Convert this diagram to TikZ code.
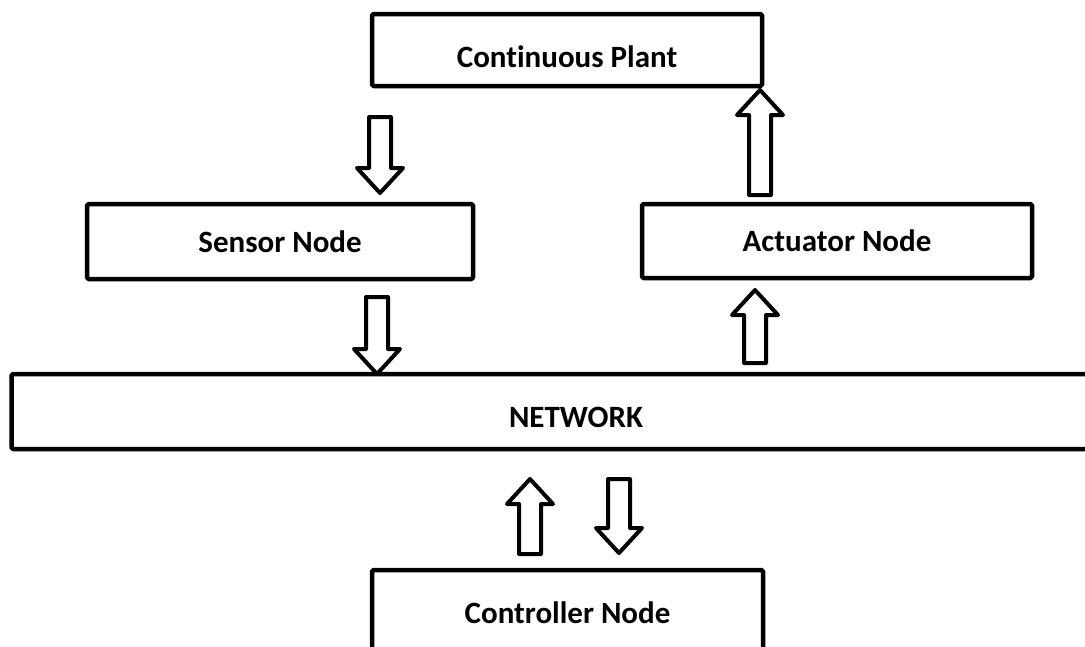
\documentclass[tikz,border=0pt]{standalone}
\usepackage{fontspec}
\setmainfont{Carlito}[Ligatures=NoCommon]
\usetikzlibrary{calc}

\newcommand{\blockarrow}[2]{%
\draw [arrowline] let \p1=(#1), \p2=(#2), \p3=($(#2)!25pt!(#1)$) in
 ({\x1-11pt},\y1) -- ({\x1+11pt},\y1) -- ({\x1+11pt},\y3) -- ({\x1+23pt},\y3) -- (\x2,\y2) -- ({\x1-23pt},\y3) -- ({\x1-11pt},\y3) -- cycle;}

\begin{document}
\begin{tikzpicture}[x=1pt,y=-1pt,
  box/.style={draw=black, line width=4.5pt, line join=round, rounded corners=1.5pt, outer sep=0pt, inner sep=0pt, font=\fontsize{31}{37}\selectfont\bfseries},
  textdown/.style={text height=#1, text depth=0pt},
  arrowline/.style={draw=black, line width=4pt, line join=round}]
\useasboundingbox (0,0) rectangle (1085,646);
\node [box, textdown=35.5pt, minimum width=390pt, minimum height=72pt] (plant) at (567,50) {Continuous Plant};
\node [box, minimum width=386pt, minimum height=75pt] (sensor) at (280,241.5) {Sensor Node};
\node [box, minimum width=390pt, minimum height=74pt] (actuator) at (837,241) {Actuator Node};
\node [box, textdown=31pt, minimum width=1129pt, minimum height=75pt] (network) at (576,411.5) {NETWORK};
\node [box, minimum width=391pt, minimum height=85pt] (controller) at (567.5,612.5) {Controller Node};
\coordinate (ps1) at (380,117);
\coordinate (ps2) at (380,193);
\coordinate (sn1) at (377,297);
\coordinate (sn2) at (sn1 |- network.north);
\coordinate (na1) at (755,363);
\coordinate (na2) at (755,290);
\coordinate (ap1) at (760,195);
\coordinate (ap2) at (760,90);
\coordinate (cn1) at (530,554);
\coordinate (cn2) at (530,479);
\coordinate (nc1) at (619,479);
\coordinate (nc2) at (619,553);
\blockarrow{ps1}{ps2}
\blockarrow{sn1}{sn2}
\blockarrow{na1}{na2}
\blockarrow{ap1}{ap2}
\blockarrow{cn1}{cn2}
\blockarrow{nc1}{nc2}
\end{tikzpicture}
\end{document}
